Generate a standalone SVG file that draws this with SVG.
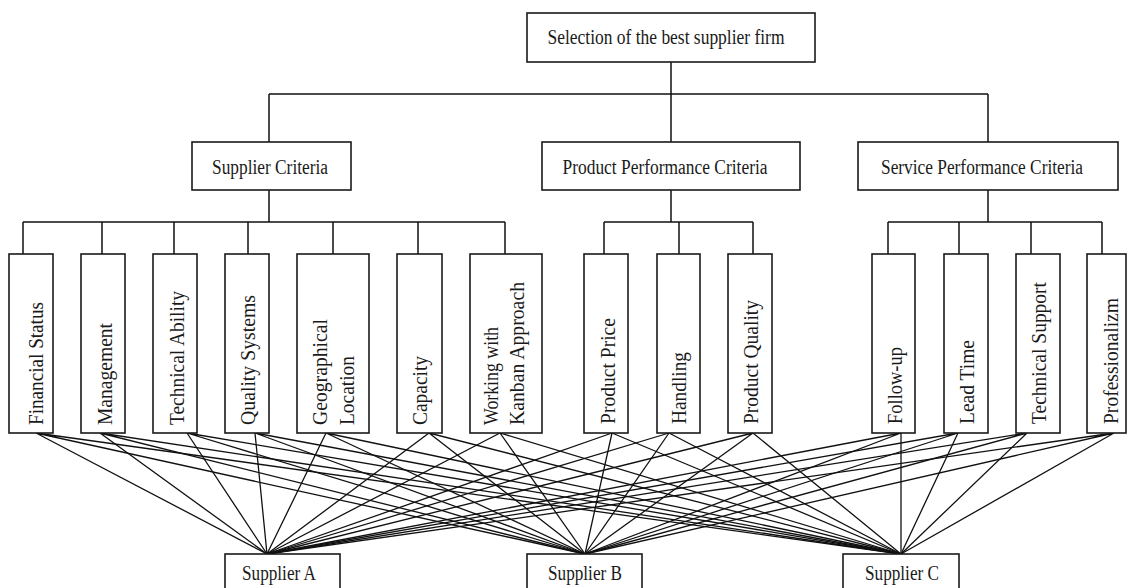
<svg xmlns="http://www.w3.org/2000/svg" width="1127" height="588" viewBox="0 0 1127 588">
  <style>
    .box { fill: #ffffff; stroke: #1a1a1a; stroke-width: 1.6; }
    .t { font-family: "Liberation Serif", "Times New Roman", serif; font-size: 20px; fill: #1a1a1a; }
    .tc { text-anchor: middle; }
    .ln { stroke: #111111; stroke-width: 1.5; fill: none; }
    .lk { stroke: #111111; stroke-width: 1.3; fill: none; }
  </style>
  <rect width="1127" height="588" fill="#ffffff"/>

  <!-- hierarchy connectors and supplier links -->
  <g id="connectors">
    <!-- goal to criteria -->
    <path class="ln" d="M671 62V94M269 94H988M269 94V142M671 94V142M988 94V142"/>
    <!-- supplier criteria to sub-criteria -->
    <path class="ln" d="M269 190V222M23 222H505M23 222V254M102 222V254M174 222V254M248 222V254M333 222V254M418 222V254M505 222V254"/>
    <!-- product performance criteria to sub-criteria -->
    <path class="ln" d="M671 190V222M604 222H753M604 222V254M679 222V254M753 222V254"/>
    <!-- service performance criteria to sub-criteria -->
    <path class="ln" d="M988 190V222M888 222H1102M888 222V254M959 222V254M1031 222V254M1102 222V254"/>
    <!-- every sub-criterion to every supplier -->
    <path class="lk" d="M36 433L267 554M36 433L585 554M36 433L901 554"/>
    <path class="lk" d="M100 433L267 554M100 433L585 554M100 433L901 554"/>
    <path class="lk" d="M187 433L267 554M187 433L585 554M187 433L901 554"/>
    <path class="lk" d="M255 433L267 554M255 433L585 554M255 433L901 554"/>
    <path class="lk" d="M326 433L267 554M326 433L585 554M326 433L901 554"/>
    <path class="lk" d="M429 433L267 554M429 433L585 554M429 433L901 554"/>
    <path class="lk" d="M500 433L267 554M500 433L585 554M500 433L901 554"/>
    <path class="lk" d="M612 433L267 554M612 433L585 554M612 433L901 554"/>
    <path class="lk" d="M669 433L267 554M669 433L585 554M669 433L901 554"/>
    <path class="lk" d="M753 433L267 554M753 433L585 554M753 433L901 554"/>
    <path class="lk" d="M901 433L267 554M901 433L585 554M901 433L901 554"/>
    <path class="lk" d="M958 433L267 554M958 433L585 554M958 433L901 554"/>
    <path class="lk" d="M1027 433L267 554M1027 433L585 554M1027 433L901 554"/>
    <path class="lk" d="M1114 433L267 554M1114 433L585 554M1114 433L901 554"/>
  </g>

  <!-- goal -->
  <g id="goal">
    <rect class="box" x="527" y="13" width="288" height="49"/>
    <text class="t tc" x="666" y="44" textLength="237" lengthAdjust="spacingAndGlyphs">Selection of the best supplier firm</text>
  </g>

  <!-- main criteria -->
  <g id="supplier-criteria">
    <rect class="box" x="192" y="142" width="159" height="48"/>
    <text class="t tc" x="270" y="174" textLength="116" lengthAdjust="spacingAndGlyphs">Supplier Criteria</text>
  </g>
  <g id="product-criteria">
    <rect class="box" x="542" y="142" width="258" height="48"/>
    <text class="t tc" x="665" y="174" textLength="205" lengthAdjust="spacingAndGlyphs">Product Performance Criteria</text>
  </g>
  <g id="service-criteria">
    <rect class="box" x="858" y="142" width="260" height="48"/>
    <text class="t tc" x="982" y="174" textLength="202" lengthAdjust="spacingAndGlyphs">Service Performance Criteria</text>
  </g>

  <!-- sub-criteria (vertical labels read bottom to top) -->
  <g id="financial-status">
    <rect class="box" x="9" y="254" width="44" height="179"/>
    <text class="t" transform="translate(43 425) rotate(-90)" textLength="123" lengthAdjust="spacingAndGlyphs">Financial Status</text>
  </g>
  <g id="management">
    <rect class="box" x="81" y="254" width="44" height="179"/>
    <text class="t" transform="translate(112 425) rotate(-90)" textLength="102" lengthAdjust="spacingAndGlyphs">Management</text>
  </g>
  <g id="technical-ability">
    <rect class="box" x="153" y="254" width="44" height="179"/>
    <text class="t" transform="translate(184 425) rotate(-90)" textLength="134" lengthAdjust="spacingAndGlyphs">Technical Ability</text>
  </g>
  <g id="quality-systems">
    <rect class="box" x="225" y="254" width="44" height="179"/>
    <text class="t" transform="translate(255 425) rotate(-90)" textLength="130" lengthAdjust="spacingAndGlyphs">Quality Systems</text>
  </g>
  <g id="geographical-location">
    <rect class="box" x="297" y="254" width="72" height="179"/>
    <text class="t" transform="translate(327 425) rotate(-90)" textLength="106" lengthAdjust="spacingAndGlyphs">Geographical</text>
    <text class="t" transform="translate(354 425) rotate(-90)" textLength="69" lengthAdjust="spacingAndGlyphs">Location</text>
  </g>
  <g id="capacity">
    <rect class="box" x="397" y="254" width="45" height="179"/>
    <text class="t" transform="translate(427 425) rotate(-90)" textLength="69" lengthAdjust="spacingAndGlyphs">Capacity</text>
  </g>
  <g id="kanban-approach">
    <rect class="box" x="470" y="254" width="72" height="179"/>
    <text class="t" transform="translate(498 425) rotate(-90)" textLength="98" lengthAdjust="spacingAndGlyphs">Working with</text>
    <text class="t" transform="translate(524 425) rotate(-90)" textLength="143" lengthAdjust="spacingAndGlyphs">Kanban Approach</text>
  </g>
  <g id="product-price">
    <rect class="box" x="584" y="254" width="44" height="179"/>
    <text class="t" transform="translate(615 424) rotate(-90)" textLength="106" lengthAdjust="spacingAndGlyphs">Product Price</text>
  </g>
  <g id="handling">
    <rect class="box" x="657" y="254" width="43" height="179"/>
    <text class="t" transform="translate(686 424) rotate(-90)" textLength="72" lengthAdjust="spacingAndGlyphs">Handling</text>
  </g>
  <g id="product-quality">
    <rect class="box" x="728" y="254" width="44" height="179"/>
    <text class="t" transform="translate(758 424) rotate(-90)" textLength="124" lengthAdjust="spacingAndGlyphs">Product Quality</text>
  </g>
  <g id="follow-up">
    <rect class="box" x="872" y="254" width="43" height="179"/>
    <text class="t" transform="translate(902 424) rotate(-90)" textLength="77" lengthAdjust="spacingAndGlyphs">Follow-up</text>
  </g>
  <g id="lead-time">
    <rect class="box" x="944" y="254" width="44" height="179"/>
    <text class="t" transform="translate(974 424) rotate(-90)" textLength="84" lengthAdjust="spacingAndGlyphs">Lead Time</text>
  </g>
  <g id="technical-support">
    <rect class="box" x="1016" y="254" width="44" height="179"/>
    <text class="t" transform="translate(1046 424) rotate(-90)" textLength="142" lengthAdjust="spacingAndGlyphs">Technical Support</text>
  </g>
  <g id="professionalizm">
    <rect class="box" x="1087" y="254" width="39" height="179"/>
    <text class="t" transform="translate(1118 424) rotate(-90)" textLength="126" lengthAdjust="spacingAndGlyphs">Professionalizm</text>
  </g>

  <!-- alternatives -->
  <g id="supplier-a">
    <rect class="box" x="225" y="554" width="115" height="50"/>
    <text class="t tc" x="279" y="580" textLength="74" lengthAdjust="spacingAndGlyphs">Supplier A</text>
  </g>
  <g id="supplier-b">
    <rect class="box" x="527" y="554" width="115" height="50"/>
    <text class="t tc" x="585" y="580" textLength="74" lengthAdjust="spacingAndGlyphs">Supplier B</text>
  </g>
  <g id="supplier-c">
    <rect class="box" x="843" y="554" width="116" height="50"/>
    <text class="t tc" x="902" y="580" textLength="74" lengthAdjust="spacingAndGlyphs">Supplier C</text>
  </g>
</svg>
